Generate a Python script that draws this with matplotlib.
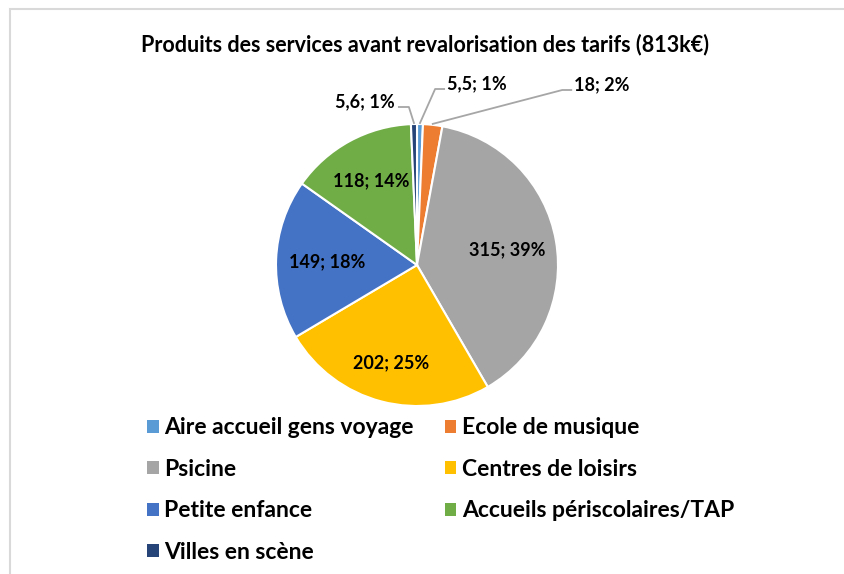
import matplotlib.pyplot as plt
from matplotlib.patches import Patch, Rectangle
import numpy as np

labels = ["Aire accueil gens voyage", "Ecole de musique", "Psicine",
          "Centres de loisirs", "Petite enfance", "Accueils périscolaires/TAP",
          "Villes en scène"]
values = [5.5, 18, 315, 202, 149, 118, 5.6]
pcts = [1, 2, 39, 25, 18, 14, 1]
colors = ["#5B9BD5", "#ED7D31", "#A5A5A5", "#FFC000", "#4472C4", "#70AD47", "#264478"]

plt.rcParams['font.family'] = ['Lato', 'DejaVu Sans']
plt.rcParams['font.weight'] = 'bold'

W, H = 845, 574
fig = plt.figure(figsize=(W/100, H/100), dpi=100)

# frame of the chart area
fig.patches.append(Rectangle((10/W, -0.1), 1.2, 1 - 9/H + 0.1, transform=fig.transFigure,
                             fill=False, edgecolor="#D9D9D9", linewidth=1.5))

cx, cy, R = 417, 265, 141
ax = fig.add_axes([(cx-200)/W, (H-cy-200)/H, 400/W, 400/H])

wedges, _ = ax.pie(values, colors=colors, startangle=90, counterclock=False,
                   radius=R, wedgeprops=dict(edgecolor='white', linewidth=1.5))
ax.set_xlim(-200, 200)
ax.set_ylim(-200, 200)
ax.set_aspect('equal')
ax.axis('off')

def lab(i):
    s = ("%g" % values[i]).replace('.', ',')
    return "%s; %d%%" % (s, pcts[i])

inside = {2: 0.65, 3: 0.72, 4: 0.64, 5: 0.68}
for i, w in enumerate(wedges):
    ang = np.deg2rad((w.theta1 + w.theta2) / 2)
    if i in inside:
        d = inside[i] * R
        ax.text(d*np.cos(ang), d*np.sin(ang), lab(i), ha='center', va='center',
                fontsize=13, color='#000000')

# outside labels: text centre relative to pie centre, leader line side
outside = {6: (-52, 163, 'right'), 0: (60, 181, 'left'), 1: (185, 180, 'left')}
texts = {}
for i, (tx, ty, side) in outside.items():
    texts[i] = ax.text(tx, ty, lab(i), ha='center', va='center', fontsize=13)

fig.canvas.draw()
inv = ax.transData.inverted()
rend = fig.canvas.get_renderer()
for i, (tx, ty, side) in outside.items():
    w = wedges[i]
    ang = np.deg2rad((w.theta1 + w.theta2) / 2)
    ex, ey = R*np.cos(ang), R*np.sin(ang)
    bb = texts[i].get_window_extent(rend)
    (x0, y0), (x1, y1) = inv.transform([[bb.x0, bb.y0], [bb.x1, bb.y1]])
    if side == 'right':
        ax.plot([x1 + 4, x1 + 14, ex], [ty - 5, ty - 5, ey + 1], color='#A6A6A6', lw=1.3)
    else:
        ax.plot([x0 - 3, x0 - 12, ex], [ty - 5, ty - 5, ey + 1], color='#A6A6A6', lw=1.3)

fig.text(425/W, 1 - 45/H, "Produits des services avant revalorisation des tarifs (813k€)",
         ha='center', va='center', fontsize=15.5, color='#000000')

order = [0, 2, 4, 6, 1, 3, 5]
handles = [Patch(facecolor=colors[i], edgecolor='none', label=labels[i]) for i in order]
fig.legend(handles=handles, ncol=2, loc='upper left',
           bbox_to_anchor=(138/W, 1 - 408/H), frameon=False,
           fontsize=16.5, handlelength=0.5, handleheight=0.5, handletextpad=0.25,
           columnspacing=1.35, labelspacing=0.9, borderaxespad=0)

fig.savefig("out.png", dpi=100)
